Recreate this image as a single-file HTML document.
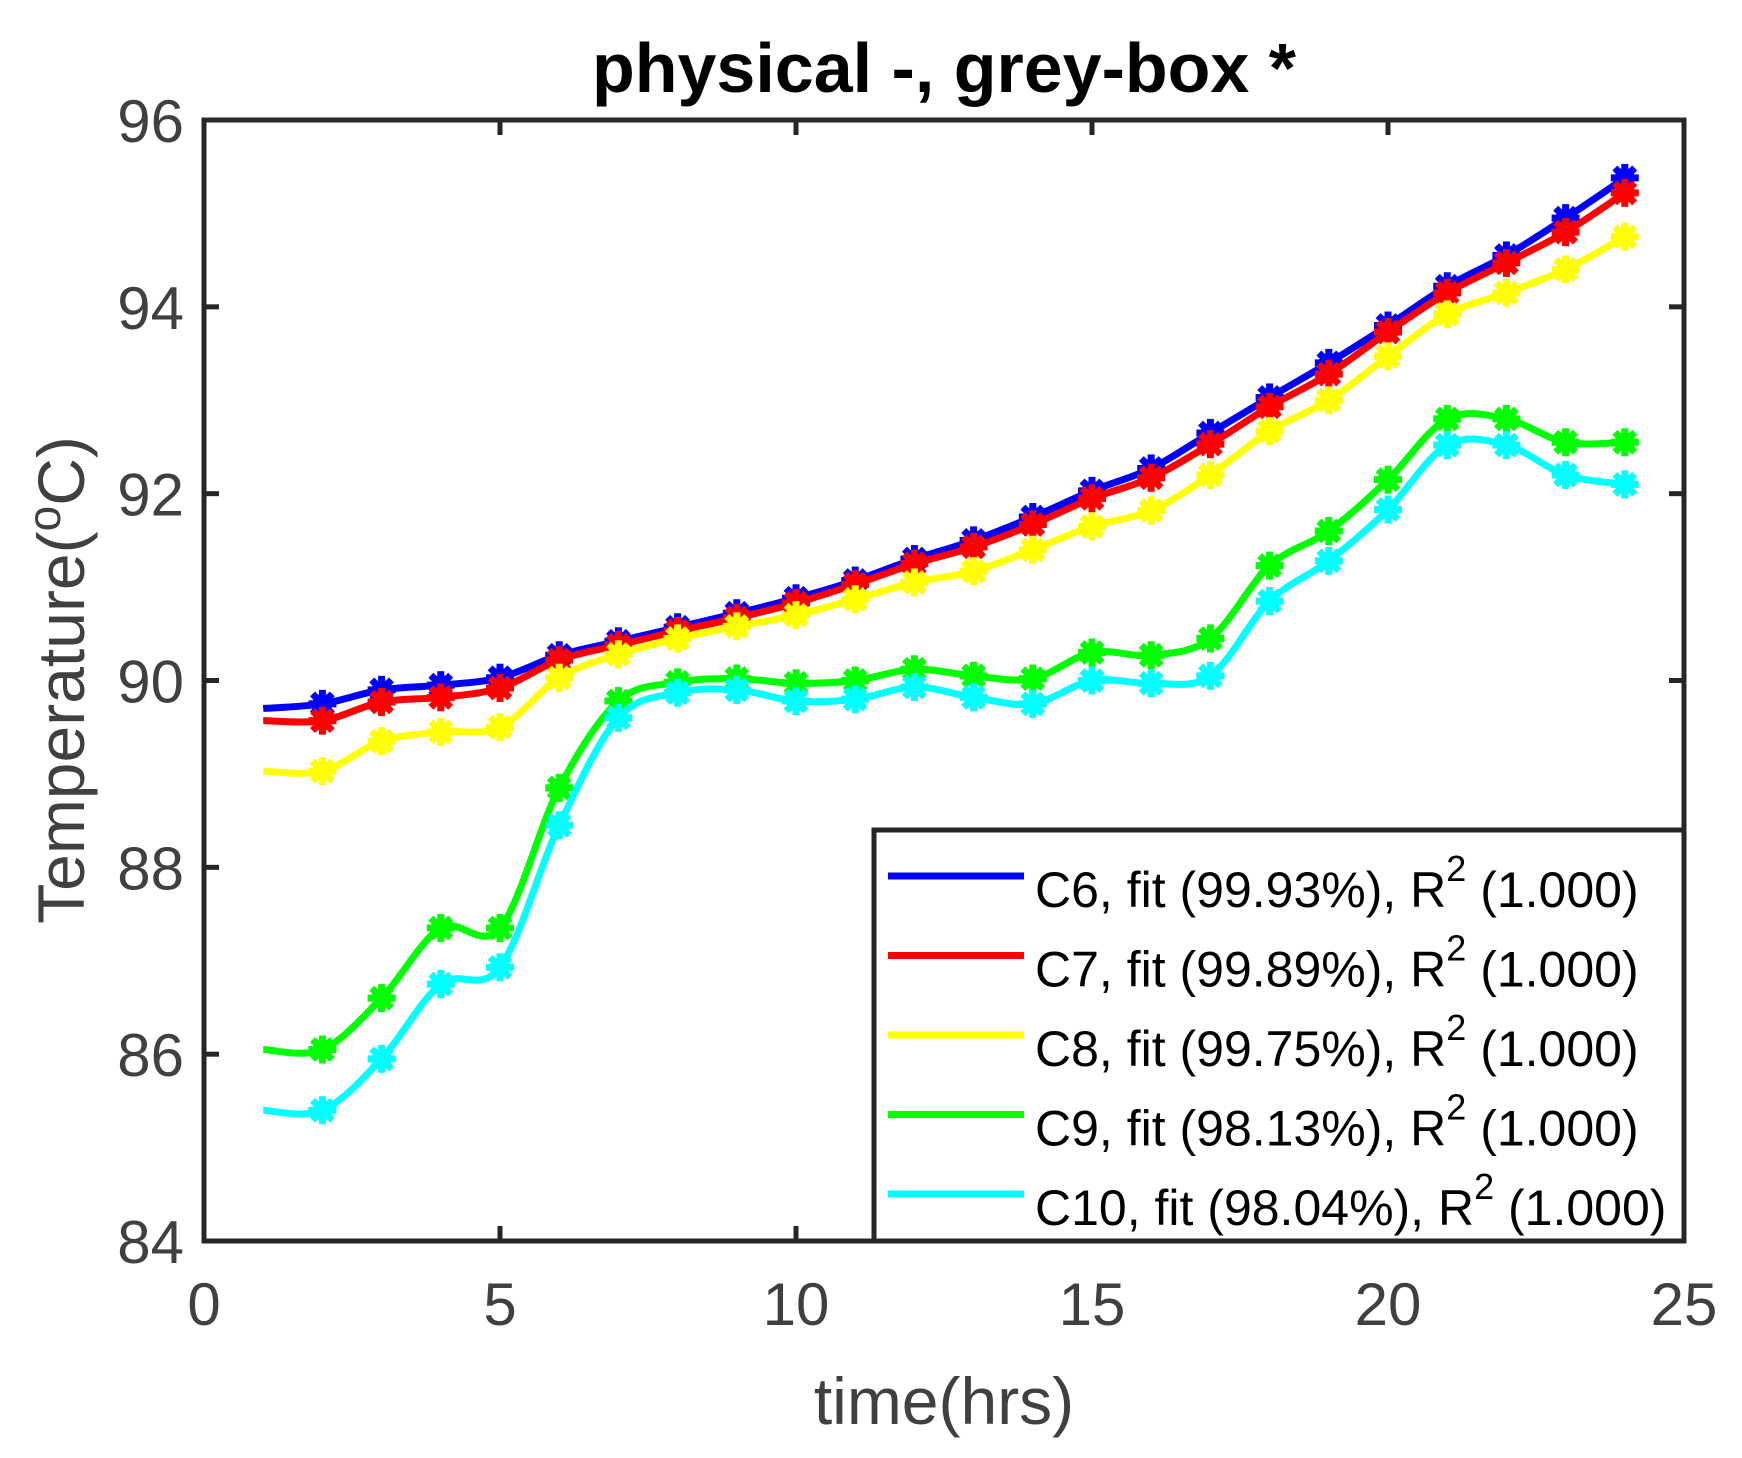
<!DOCTYPE html>
<html><head><meta charset="utf-8"><style>
html,body{margin:0;padding:0;background:#fff;}
svg{display:block;font-family:"Liberation Sans",Arial,sans-serif;}
</style></head><body>
<svg id="chart" width="1742" height="1458" viewBox="0 0 1742 1458">
<rect width="1742" height="1458" fill="#fff"/>
<text x="944" y="92" text-anchor="middle" font-size="70" font-weight="bold" fill="#000">physical -, grey-box *</text>
<g id="plot"></g>
<text x="944" y="1424" text-anchor="middle" font-size="66" fill="#404040">time(hrs)</text>
<text transform="translate(84,680) rotate(-90)" text-anchor="middle" font-size="66" fill="#404040">Temperature(<tspan dy="-24" font-size="46">o</tspan><tspan dy="24">C)</tspan></text>
</svg>
<script>
const hours=[1,2,3,4,5,6,7,8,9,10,11,12,13,14,15,16,17,18,19,20,21,22,23,24];
const c6=[89.7,89.75,89.9,89.95,90.03,90.27,90.42,90.57,90.72,90.88,91.07,91.3,91.5,91.75,92.03,92.27,92.65,93.03,93.4,93.8,94.22,94.55,94.95,95.38];
const c7=[89.57,89.57,89.77,89.82,89.92,90.22,90.38,90.53,90.67,90.83,91.03,91.25,91.43,91.67,91.95,92.17,92.53,92.93,93.28,93.73,94.15,94.47,94.8,95.22];
const c8=[89.03,89.03,89.35,89.45,89.5,90.03,90.28,90.45,90.58,90.7,90.87,91.05,91.17,91.4,91.65,91.82,92.2,92.67,93.0,93.47,93.92,94.15,94.4,94.75];
const c9=[86.05,86.05,86.6,87.35,87.35,88.85,89.78,89.98,90.02,89.97,90.0,90.12,90.05,90.02,90.3,90.27,90.45,91.23,91.6,92.15,92.8,92.8,92.55,92.55];
const c10=[85.4,85.4,85.95,86.75,86.93,88.45,89.6,89.87,89.9,89.78,89.8,89.93,89.82,89.75,90.0,89.97,90.05,90.85,91.28,91.83,92.52,92.52,92.2,92.1];
const seriesNames=["C6, fit (99.93%), R","C7, fit (99.89%), R","C8, fit (99.75%), R","C9, fit (98.13%), R","C10, fit (98.04%), R"];
const seriesColors=["#0000ff","#ff0000","#ffff00","#00ff00","#00ffff"];
const xTicks=[0,5,10,15,20,25];
const yTicks=[84,86,88,90,92,94,96];

const L=204,R=1684,T=120,B=1241;
const X=v=>L+(v-0)/(25-0)*(R-L);
const Y=v=>B-(v-84)/(96-84)*(B-T);
const NS="http://www.w3.org/2000/svg";
const g=document.getElementById('plot');
function el(t,a,p){const e=document.createElementNS(NS,t);for(const k in a)e.setAttribute(k,a[k]);(p||g).appendChild(e);return e;}

const allSeries=[c6,c7,c8,c9,c10];
allSeries.forEach((s,si)=>{
  const pts=hours.map((h,i)=>[X(h),Y(s[i])]);
  let d="M"+pts[0][0]+","+pts[0][1];
  for(let i=0;i<pts.length-1;i++){
    const p0=pts[Math.max(0,i-1)],p1=pts[i],p2=pts[i+1],p3=pts[Math.min(pts.length-1,i+2)];
    const c1=[p1[0]+(p2[0]-p0[0])/6,p1[1]+(p2[1]-p0[1])/6];
    const c2=[p2[0]-(p3[0]-p1[0])/6,p2[1]-(p3[1]-p1[1])/6];
    d+=` C${c1[0]},${c1[1]} ${c2[0]},${c2[1]} ${p2[0]},${p2[1]}`;
  }
  const line=el('path',{d:d,fill:'none',stroke:seriesColors[si],'stroke-width':7,'stroke-linejoin':'round'});
  
  
  for(let i=1;i<hours.length;i++){
    const [cx,cy]=pts[i];
    const m=el('g',{stroke:seriesColors[si],'stroke-width':7,fill:seriesColors[si]});
    
    
    el('circle',{cx:cx,cy:cy,r:10,stroke:'none'},m);
    for(let a=0;a<4;a++){const an=a*Math.PI/4;el('line',{x1:cx-14*Math.cos(an),y1:cy-14*Math.sin(an),x2:cx+14*Math.cos(an),y2:cy+14*Math.sin(an)},m);}
  }
});

const box=el('rect',{x:L,y:T,width:R-L,height:B-T,fill:'none',stroke:'#262626','stroke-width':5});


xTicks.forEach(v=>{
  const x=X(v);
  el('line',{x1:x,y1:B,x2:x,y2:B-15,stroke:'#262626','stroke-width':5});
  el('line',{x1:x,y1:T,x2:x,y2:T+15,stroke:'#262626','stroke-width':5});
  const t=el('text',{x:x,y:B+84,'text-anchor':'middle','font-size':60,fill:'#404040'});
  t.textContent=v;
  
  
});
yTicks.forEach(v=>{
  const y=Y(v);
  el('line',{x1:L,y1:y,x2:L+15,y2:y,stroke:'#262626','stroke-width':5});
  el('line',{x1:R,y1:y,x2:R-15,y2:y,stroke:'#262626','stroke-width':5});
  const t=el('text',{x:L-20,y:y+22,'text-anchor':'end','font-size':60,fill:'#404040'});
  t.textContent=v;
  
  
});

const lg=el('g',{});


el('rect',{x:874,y:830,width:R-874,height:B-830,fill:'#fff',stroke:'#262626','stroke-width':5},lg);
seriesNames.forEach((n,i)=>{
  const y=876+i*79.5;
  const e=el('g',{},lg);
  
  
  el('line',{x1:888,y1:y,x2:1024,y2:y,stroke:seriesColors[i],'stroke-width':7},e);
  const t=el('text',{x:1035,y:y+31,'font-size':50,fill:'#000'},e);
  t.textContent=n;
  const s=el('tspan',{dy:-26,'font-size':36},t);s.textContent='2';
  const r=el('tspan',{dy:26},t);r.textContent=' (1.000)';
});
</script>
</body></html>
